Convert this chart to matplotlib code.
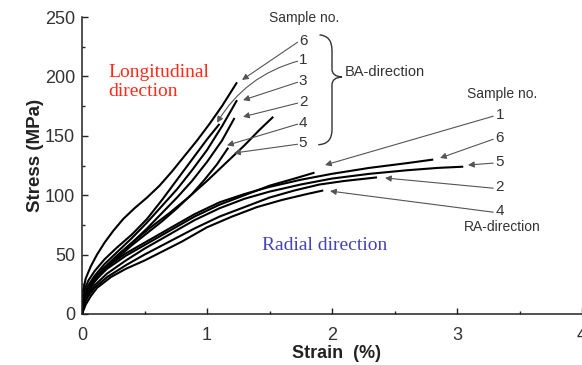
import matplotlib
matplotlib.use("Agg")
import matplotlib.pyplot as plt
from matplotlib.path import Path
from matplotlib.patches import PathPatch
from matplotlib.ticker import MultipleLocator

# -----------------------------
# Data (strain %, stress MPa)
# -----------------------------
# BA-direction (longitudinal) samples
ba6_x = [0, 0.005, 0.03, 0.07, 0.12, 0.18, 0.25, 0.33, 0.42, 0.52, 0.62,
         0.72, 0.82, 0.92, 1.02, 1.12, 1.24]
ba6_y = [0, 18, 30, 40, 50, 60, 70, 80, 89, 98, 108, 120, 133, 146, 160,
         175, 195]
ba1_x = [0, 0.02, 0.05, 0.10, 0.18, 0.28, 0.40, 0.52, 0.64, 0.76, 0.88,
         1.00, 1.10]
ba1_y = [0, 20, 28, 36, 46, 56, 67, 80, 96, 113, 130, 147, 160]
ba3_x = [0, 0.02, 0.05, 0.10, 0.18, 0.28, 0.40, 0.52, 0.64, 0.76, 0.88,
         1.00, 1.12, 1.24]
ba3_y = [0, 16, 24, 32, 42, 52, 64, 77, 91, 105, 121, 138, 158, 180]
ba2_x = [0, 0.02, 0.05, 0.10, 0.18, 0.28, 0.40, 0.52, 0.64, 0.76, 0.88,
         1.00, 1.12, 1.22]
ba2_y = [0, 14, 22, 30, 39, 49, 60, 72, 85, 98, 112, 128, 146, 165]
ba4_x = [0, 0.02, 0.05, 0.10, 0.18, 0.28, 0.40, 0.55, 0.70, 0.85, 1.00,
         1.15, 1.30, 1.42, 1.53]
ba4_y = [0, 15, 22, 30, 39, 49, 60, 73, 85, 98, 112, 127, 142, 155, 166]
ba5_x = [0, 0.02, 0.05, 0.10, 0.18, 0.28, 0.40, 0.52, 0.64, 0.76, 0.88,
         0.98, 1.08, 1.17]
ba5_y = [0, 12, 19, 27, 37, 47, 58, 68, 78, 89, 101, 113, 126, 140]

# RA-direction (radial) samples
ra6_x = [0, 0.02, 0.05, 0.10, 0.20, 0.35, 0.50, 0.70, 0.90, 1.10, 1.30,
         1.50, 1.75, 2.00, 2.30, 2.60, 2.81]
ra6_y = [0, 14, 22, 30, 40, 51, 60, 72, 84, 94, 101, 107, 113, 118, 123,
         127, 130]
ra5_x = [0, 0.02, 0.05, 0.10, 0.20, 0.35, 0.50, 0.70, 0.90, 1.10, 1.30,
         1.50, 1.75, 2.00, 2.30, 2.60, 2.85, 3.05]
ra5_y = [0, 10, 17, 24, 34, 45, 55, 67, 79, 89, 97, 103, 109, 114, 118,
         121, 123, 124]
ra1_x = [0, 0.02, 0.05, 0.10, 0.20, 0.35, 0.50, 0.70, 0.90, 1.10, 1.30,
         1.50, 1.70, 1.86]
ra1_y = [0, 12, 20, 28, 38, 49, 58, 70, 82, 92, 100, 108, 114, 119]
ra2_x = [0, 0.02, 0.05, 0.10, 0.20, 0.35, 0.50, 0.70, 0.90, 1.10, 1.30,
         1.50, 1.70, 1.90, 2.10, 2.36]
ra2_y = [0, 9, 15, 22, 31, 41, 50, 61, 72, 82, 90, 98, 104, 109, 112, 115]
ra4_x = [0, 0.03, 0.07, 0.12, 0.23, 0.35, 0.50, 0.65, 0.80, 1.00, 1.20,
         1.40, 1.60, 1.80, 1.93]
ra4_y = [0, 8, 15, 22, 31, 38, 45, 53, 61, 73, 82, 90, 96, 101, 104]

ba_labels = ["6", "1", "3", "2", "4", "5"]
ra_labels = ["1", "6", "5", "2", "4"]

SANS = "Liberation Sans"
SERIF = "Liberation Serif"
ARROW = "#555555"


def main():
    fig = plt.figure(figsize=(5.82, 3.65), dpi=100)
    ax = fig.add_axes([82 / 582, 51 / 365, 500 / 582, 297 / 365])

    # curves
    for xs, ys in [(ba6_x, ba6_y), (ba1_x, ba1_y), (ba3_x, ba3_y),
                   (ba2_x, ba2_y), (ba4_x, ba4_y), (ba5_x, ba5_y),
                   (ra6_x, ra6_y), (ra5_x, ra5_y), (ra1_x, ra1_y),
                   (ra2_x, ra2_y), (ra4_x, ra4_y)]:
        ax.plot(xs, ys, color="black", lw=1.5, solid_capstyle="butt",
                solid_joinstyle="round")

    ax.set_xlim(0, 4)
    ax.set_ylim(0, 250)
    ax.xaxis.set_major_locator(MultipleLocator(1))
    ax.xaxis.set_minor_locator(MultipleLocator(0.5))
    ax.yaxis.set_major_locator(MultipleLocator(50))
    ax.yaxis.set_minor_locator(MultipleLocator(25))
    for s in ["top", "right"]:
        ax.spines[s].set_visible(False)
    for s in ["left", "bottom"]:
        ax.spines[s].set_linewidth(1.1)
        ax.spines[s].set_color("#222222")
    ax.tick_params(which="both", direction="in", color="#222222", width=1.0)
    ax.tick_params(which="major", length=4)
    ax.tick_params(which="minor", length=2.5)
    ax.tick_params(axis="x", pad=9)
    ax.tick_params(axis="y", pad=5)
    for lab in ax.get_xticklabels() + ax.get_yticklabels():
        lab.set_fontfamily(SANS)
        lab.set_fontsize(13)
        lab.set_color("#333333")

    ax.set_ylabel("Stress (MPa)", fontfamily=SANS, fontsize=13.5,
                  fontweight="bold", color="#222222")
    ax.yaxis.set_label_coords(-0.076, 0.535)
    ax.set_xlabel("Strain  (%)", fontfamily=SANS, fontsize=13,
                  fontweight="bold", color="#222222")
    ax.xaxis.set_label_coords(0.51, -0.104)

    # BA-direction labels
    ax.text(1.776, 249, "Sample no.", fontfamily=SANS, fontsize=10,
            color="#333333", ha="center", va="center", clip_on=False)
    ba_num_y = [229.8, 213.8, 196.1, 178.5, 160.8, 143.9]
    ba_tips = [(1.28, 197), (1.08, 161), (1.288, 180),
               (1.288, 166), (1.16, 142), (1.216, 135.5)]
    for lab, ny, tip in zip(ba_labels, ba_num_y, ba_tips):
        ax.text(1.768, ny, lab, fontfamily=SANS, fontsize=11,
                color="#333333", ha="center", va="center")
        cs = "arc3,rad=0.2" if lab == "1" else "arc3,rad=0"
        ax.annotate("", xy=tip, xytext=(1.725, ny - 1),
                    arrowprops=dict(arrowstyle="-|>", color=ARROW, lw=0.8,
                                    mutation_scale=9, shrinkA=0, shrinkB=0,
                                    connectionstyle=cs))

    # curly brace
    verts = [(1.90, 235), (2.0, 234), (2.0, 222),
             (2.0, 206),
             (2.0, 200), (2.08, 199.5),
             (2.0, 199), (2.0, 193),
             (2.0, 155),
             (2.0, 143), (1.89, 142.5)]
    codes = [Path.MOVETO, Path.CURVE3, Path.CURVE3,
             Path.LINETO,
             Path.CURVE3, Path.CURVE3,
             Path.CURVE3, Path.CURVE3,
             Path.LINETO,
             Path.CURVE3, Path.CURVE3]
    ax.add_patch(PathPatch(Path(verts, codes), fill=False,
                           edgecolor="#333333", lw=1.0))
    ax.text(2.104, 203.7, "BA-direction", fontfamily=SANS, fontsize=10.5,
            color="#333333", ha="left", va="center")

    # RA-direction labels
    ax.text(3.36, 185.2, "Sample no.", fontfamily=SANS, fontsize=10,
            color="#333333", ha="center", va="center")
    ra_num_y = [167.5, 148.1, 128.0, 106.9, 86.7]
    ra_tips = [(1.944, 125.4), (2.864, 131.3), (3.088, 125.4),
               (2.424, 114.5), (1.984, 103.5)]
    for lab, ny, tip in zip(ra_labels, ra_num_y, ra_tips):
        ax.text(3.344, ny, lab, fontfamily=SANS, fontsize=11,
                color="#333333", ha="center", va="center")
        ax.annotate("", xy=tip, xytext=(3.29, ny - 1),
                    arrowprops=dict(arrowstyle="-|>", color=ARROW, lw=0.8,
                                    mutation_scale=9, shrinkA=0, shrinkB=0))
    ax.text(3.36, 73.2, "RA-direction", fontfamily=SANS, fontsize=10,
            color="#333333", ha="center", va="center")

    # direction captions
    ax.text(0.208, 195.3, "Longitudinal\ndirection", fontfamily=SERIF,
            fontsize=14, color="#ff2a1a", ha="left", va="center",
            linespacing=1.2)
    ax.text(1.44, 58, "Radial direction", fontfamily=SERIF, fontsize=14,
            color="#4444b4", ha="left", va="center")

    plt.savefig("out.png", dpi=100)


if __name__ == "__main__":
    main()
